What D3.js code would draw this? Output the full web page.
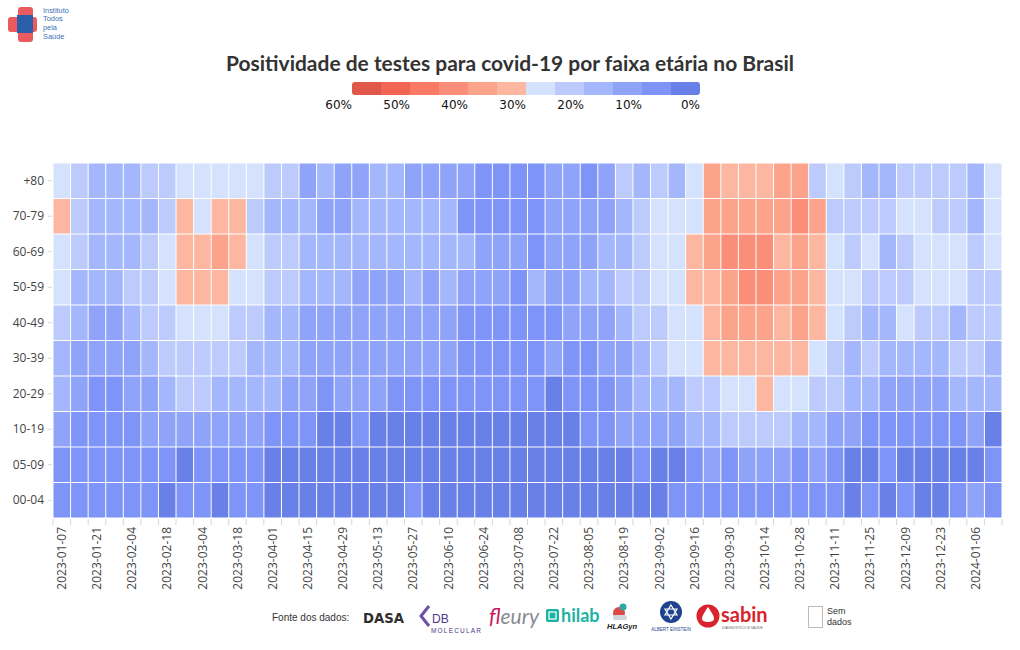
<!DOCTYPE html>
<html><head><meta charset="utf-8">
<script src="https://cdn.jsdelivr.net/npm/d3@7"></script>
<style>body{margin:0;background:#fff;} svg{display:block;}</style>
</head><body><svg id="chart" width="1020" height="650"></svg>
<script>
// ---- DATA ----
const ageGroups = ["+80","70-79","60-69","50-59","40-49","30-39","20-29","10-19","05-09","00-04"];
const weeks = ["2023-01-07","2023-01-14","2023-01-21","2023-01-28","2023-02-04","2023-02-11","2023-02-18","2023-02-25",
"2023-03-04","2023-03-11","2023-03-18","2023-03-25","2023-04-01","2023-04-08","2023-04-15","2023-04-22","2023-04-29",
"2023-05-06","2023-05-13","2023-05-20","2023-05-27","2023-06-03","2023-06-10","2023-06-17","2023-06-24","2023-07-01",
"2023-07-08","2023-07-15","2023-07-22","2023-07-29","2023-08-05","2023-08-12","2023-08-19","2023-08-26","2023-09-02",
"2023-09-09","2023-09-16","2023-09-23","2023-09-30","2023-10-07","2023-10-14","2023-10-21","2023-10-28","2023-11-04",
"2023-11-11","2023-11-18","2023-11-25","2023-12-02","2023-12-09","2023-12-16","2023-12-23","2023-12-30","2024-01-06","2024-01-13"];
const tickLabels = ["2023-01-07","2023-01-21","2023-02-04","2023-02-18","2023-03-04","2023-03-18","2023-04-01","2023-04-15",
"2023-04-29","2023-05-13","2023-05-27","2023-06-10","2023-06-24","2023-07-08","2023-07-22","2023-08-05","2023-08-19",
"2023-09-02","2023-09-16","2023-09-30","2023-10-14","2023-10-28","2023-11-11","2023-11-25","2023-12-09","2023-12-23","2024-01-06"];
// positivity (%) per week, one array per age group
const pos80   = [27,22,17,17,17,22,22,27,27,27,27,27,22,22,12,17,12,12,17,17,12,12,12,12,7,7,7,7,12,12,6,12,22,17,22,17,27,37,32,32,32,37,37,22,27,22,17,17,22,22,22,22,17,27];
const pos7079 = [32,22,17,17,17,17,22,32,27,32,32,22,17,17,17,12,12,17,17,17,17,17,17,7,7,7,7,7,12,12,12,12,17,22,27,27,27,37,37,37,37,37,42,37,22,22,22,22,27,27,22,22,17,27];
const pos6069 = [27,22,17,17,17,22,27,32,32,37,32,27,22,22,17,17,17,17,17,17,17,17,17,17,12,12,12,7,12,12,12,17,17,22,27,27,32,37,42,42,42,32,37,32,27,22,27,17,22,27,27,27,22,27];
const pos5059 = [27,17,17,17,22,22,27,32,32,32,27,27,22,22,17,17,17,12,12,12,17,12,17,12,12,12,7,17,12,12,17,17,22,22,27,27,32,32,37,42,42,37,37,32,27,27,22,22,22,27,27,27,22,22];
const pos4049 = [22,17,12,12,17,22,22,27,27,27,22,22,17,17,12,12,12,12,12,12,12,12,12,7,7,7,7,7,7,12,12,12,17,22,22,27,27,32,37,37,37,32,37,32,27,22,17,17,27,22,22,17,22,22];
const pos3039 = [17,12,12,12,12,17,22,22,22,22,22,17,17,17,12,12,12,12,12,12,12,12,12,7,7,7,7,7,12,7,7,12,12,17,22,27,27,32,32,32,32,32,32,27,22,17,22,17,17,17,17,22,22,17];
const pos2029 = [17,12,7,7,12,12,17,22,22,17,17,17,17,12,12,7,12,12,12,7,7,7,7,7,7,7,7,7,3,7,7,7,12,17,17,17,22,22,27,27,32,27,27,22,22,17,17,12,12,12,12,17,17,17];
const pos1019 = [12,7,7,7,7,12,12,12,12,12,12,12,7,7,7,3,3,7,3,3,3,3,3,3,3,3,3,3,3,3,7,7,12,12,12,12,17,17,22,22,22,22,17,17,12,12,7,7,7,7,7,7,12,3];
const pos0509 = [7,7,7,7,7,7,7,3,7,7,7,7,3,3,3,3,3,3,3,3,3,3,3,3,3,3,3,3,3,3,3,3,3,7,3,3,7,12,7,12,12,12,7,12,7,3,3,7,3,3,3,3,3,7];
const pos0004 = [7,7,7,7,7,7,3,7,7,3,7,7,3,3,3,3,3,3,3,3,7,3,3,3,3,3,3,3,3,3,3,3,3,3,3,7,7,7,7,7,7,7,7,7,7,3,7,3,7,3,3,7,12,7];
const seriesByAge = [pos80,pos7079,pos6069,pos5059,pos4049,pos3039,pos2029,pos1019,pos0509,pos0004];
const legendTicks = [60,50,40,30,20,10,0];
const binEdges = [5,10,15,20,25,30,35,40,45,50,55];
const binColors = ["#6a80e9","#7e94f7","#8fa3f9","#a5b7fc","#bccbfc","#d5e2fd","#fdb7a0","#fca38b","#fb8e78","#f97a65","#f36553","#e0584a"];
const logoLines = ["Instituto","Todos","pela","Saúde"];

// ---- CHART ----
const svg = d3.select("#chart");
const color = d3.scaleThreshold().domain(binEdges).range(binColors);
const x = d3.scaleBand().domain(weeks).range([53, 1002]);
const y = d3.scaleBand().domain(ageGroups).range([163, 518]);
const bw = x.bandwidth(), bh = y.bandwidth();

const cells = [];
ageGroups.forEach((a, i) => seriesByAge[i].forEach((v, j) => cells.push({age: a, week: weeks[j], v})));

svg.append("g").selectAll("rect").data(cells).join("rect")
  .attr("x", d => x(d.week) + 0.5).attr("y", d => y(d.age) + 0.5)
  .attr("width", bw - 1).attr("height", bh - 1)
  .attr("fill", d => color(d.v));

// x ticks at column boundaries
const gx = svg.append("g");
gx.selectAll("line").data(weeks.concat(["end"])).join("line")
  .attr("x1", (d,i) => 53 + i*bw).attr("x2", (d,i) => 53 + i*bw)
  .attr("y1", 519).attr("y2", 525).attr("stroke", "#d6d6d6").attr("stroke-width", 1);
gx.selectAll("text").data(tickLabels).join("text")
  .attr("transform", d => `translate(${x(d) + bw/2},527) rotate(-90)`)
  .attr("text-anchor", "end").attr("dy", "0.35em")
  .style("font-family", "'Open Sans', sans-serif").style("font-size", "12px").attr("fill", "#444")
  .text(d => d);

// y axis
const gy = svg.append("g");
gy.selectAll("line").data(ageGroups).join("line")
  .attr("x1", 48).attr("x2", 52).attr("y1", d => y(d) + bh/2).attr("y2", d => y(d) + bh/2)
  .attr("stroke", "#d6d6d6");
gy.selectAll("text").data(ageGroups).join("text")
  .attr("x", 44).attr("y", d => y(d) + bh/2).attr("dy", "0.35em").attr("text-anchor", "end")
  .style("font-family", "'Open Sans', sans-serif").style("font-size", "12px").attr("fill", "#444")
  .text(d => d);

// title
const title = svg.append("text").attr("x", 510).attr("y", 71).attr("text-anchor", "middle")
  .style("font-family", "Lato, sans-serif").style("font-weight", "700").style("font-size", "21px")
  .attr("fill", "#333").text("Positividade de testes para covid-19 por faixa etária no Brasil");
const tl = title.node().getComputedTextLength();
if (tl > 568) title.attr("textLength", 568).attr("lengthAdjust", "spacingAndGlyphs");

// legend
const lx = d3.scaleLinear().domain([60, 0]).range([352, 700]);
const bins = d3.range(55, -1, -5);
svg.append("defs").append("clipPath").attr("id", "lgclip")
  .append("rect").attr("x", 352).attr("y", 82).attr("width", 348).attr("height", 13).attr("rx", 3);
svg.append("g").attr("clip-path", "url(#lgclip)").selectAll("rect").data(bins).join("rect")
  .attr("x", d => lx(d + 5)).attr("width", d => lx(d) - lx(d + 5) + 0.3)
  .attr("y", 82).attr("height", 13).attr("fill", d => color(d + 2.5));
svg.append("g").selectAll("text").data(legendTicks).join("text")
  .attr("x", d => lx(d)).attr("y", 109).attr("text-anchor", "end")
  .style("font-family", "'DejaVu Sans', sans-serif").style("font-size", "12px").attr("fill", "#111")
  .text(d => d + "%");

// logo
const logo = svg.append("g");
logo.append("rect").attr("x", 8).attr("y", 17).attr("width", 29).attr("height", 15).attr("rx", 3).attr("fill", "#ea5a5f");
logo.append("rect").attr("x", 18).attr("y", 7).attr("width", 15).attr("height", 35).attr("rx", 3).attr("fill", "#ea5a5f");
logo.append("rect").attr("x", 17).attr("y", 15).attr("width", 16).attr("height", 18).attr("fill", "#2a5ea8");
logo.selectAll("text").data(logoLines).join("text")
  .attr("x", 43).attr("y", (d, i) => 12.5 + i * 8.7).text(d => d)
  .style("font-family", "'Liberation Sans', Arial, sans-serif").style("font-size", "7.4px").attr("fill", "#3d6fb6");

// footer
const f = svg.append("g").style("font-family", "'Liberation Sans', Arial, sans-serif");
f.append("text").attr("x", 272).attr("y", 621).style("font-size", "10px").attr("fill", "#333").text("Fonte dos dados:");
f.append("text").attr("x", 363).attr("y", 623).attr("textLength", 41).attr("lengthAdjust", "spacingAndGlyphs")
  .style("font-family", "'DejaVu Sans', sans-serif").style("font-weight", "700").style("font-size", "14px").attr("fill", "#2d2d2d").text("DASA");
f.append("path").attr("d", "M429,606 L421,616 L429,626").attr("fill", "none").attr("stroke", "#6b4fa8").attr("stroke-width", 3);
f.append("text").attr("x", 432).attr("y", 623).style("font-size", "12px").attr("fill", "#4b3a8c").text("DB");
f.append("text").attr("x", 431).attr("y", 633).style("font-size", "6.5px").style("letter-spacing", "1.2px").attr("fill", "#4b3a8c").text("MOLECULAR");
const fl = f.append("text").attr("x", 489).attr("y", 624).style("font-family", "Lato, sans-serif").style("font-style", "italic").style("font-size", "21px");
fl.append("tspan").attr("fill", "#c8175d").text("f");
fl.append("tspan").attr("fill", "#8a8a92").text("leury");
f.append("rect").attr("x", 546).attr("y", 609).attr("width", 13).attr("height", 13).attr("rx", 2).attr("fill", "#1ab3a3");
f.append("rect").attr("x", 549).attr("y", 612).attr("width", 7).attr("height", 7).attr("fill", "none").attr("stroke", "#fff").attr("stroke-width", 1.2);
f.append("text").attr("x", 561).attr("y", 622).style("font-family", "Lato, sans-serif").style("font-weight", "700").style("font-size", "18px").attr("fill", "#1ab3a3").text("hilab");
f.append("circle").attr("cx", 619).attr("cy", 613).attr("r", 6).attr("fill", "#e04848");
f.append("circle").attr("cx", 623).attr("cy", 607).attr("r", 3.5).attr("fill", "#2ea8a0");
f.append("rect").attr("x", 613).attr("y", 615).attr("width", 14).attr("height", 5).attr("rx", 2).attr("fill", "#cfd6dc");
f.append("text").attr("x", 607).attr("y", 629).style("font-size", "7.5px").style("font-weight", "700").style("font-style", "italic").attr("fill", "#222").text("HLAGyn");
f.append("circle").attr("cx", 671).attr("cy", 612).attr("r", 11).attr("fill", "#1f4390");
f.append("path").attr("d", "M671,605 L677,615 L665,615 Z M671,619 L677,609 L665,609 Z").attr("fill", "none").attr("stroke", "#fff").attr("stroke-width", 1.2);
f.append("text").attr("x", 671).attr("y", 631).attr("text-anchor", "middle").style("font-size", "4.5px").attr("fill", "#1f4390").text("ALBERT EINSTEIN");
f.append("circle").attr("cx", 708).attr("cy", 616).attr("r", 11.5).attr("fill", "#d9232d");
f.append("path").attr("d", "M708,607 C704,613 702,616 702,619 C702,623 714,623 714,619 C714,616 712,613 708,607 Z").attr("fill", "#fff");
f.append("text").attr("x", 721).attr("y", 622).style("font-family", "Lato, sans-serif").style("font-weight", "700").style("font-size", "20px").attr("fill", "#d9232d").text("sabin");
f.append("text").attr("x", 722).attr("y", 629).style("font-size", "3.5px").attr("fill", "#666").text("DIAGNÓSTICO E SAÚDE");
f.append("rect").attr("x", 808.5).attr("y", 606.5).attr("width", 14).attr("height", 21).attr("fill", "#fff").attr("stroke", "#bbb");
f.append("text").attr("x", 827).attr("y", 614).style("font-size", "9px").attr("fill", "#333").text("Sem");
f.append("text").attr("x", 827).attr("y", 625).style("font-size", "9px").attr("fill", "#333").text("dados");
</script></body></html>
